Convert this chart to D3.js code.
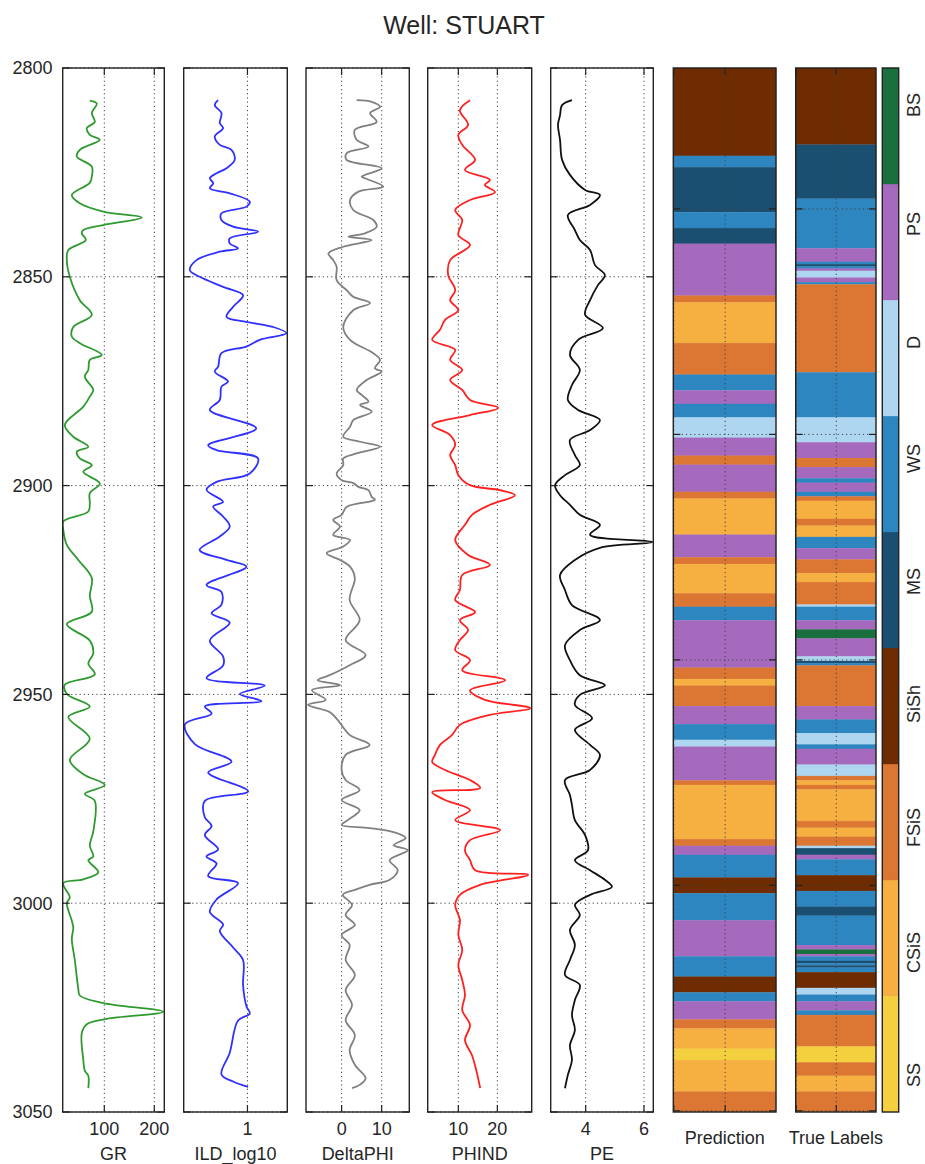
<!DOCTYPE html>
<html><head><meta charset="utf-8">
<script src="https://cdn.jsdelivr.net/npm/d3@7"></script>
<style>
body{margin:0;background:#fff}
svg{display:block}
text{font-family:"Liberation Sans",Arial,sans-serif;fill:#262626}
</style>
</head><body>
<svg id="c" width="925" height="1164"></svg>
<script>
// ---------------- DATA ----------------
const wellName = "STUART";
const depthTicks = [2800, 2850, 2900, 2950, 3000, 3050];

const grDepth = [2807.8,2808.5,2810.8,2812.9,2814.4,2816,2817.2,2819.6,2821.2,2823.6,2826,2827.5,2830.4,2832.4,2834.4,2835.8,2837.6,2838.8,2839.6,2841.2,2843.6,2846,2850,2855.6,2859.1,2862,2864.3,2865.9,2868.7,2869.9,2872.3,2873.9,2877.1,2878.7,2881.1,2885.5,2888.3,2890.7,2891.9,2893.5,2895.1,2896.7,2899.5,2901.8,2904.2,2906.2,2908.6,2910.6,2914.2,2917.8,2922.1,2926.4,2930.2,2933.2,2937.1,2940.1,2942.6,2945.2,2947.7,2949.9,2952.9,2955.4,2960.6,2965.7,2969.1,2971.7,2973.8,2975.5,2982.8,2986.2,2988.8,2989.7,2992.6,2994.3,2995.2,2998.6,2999.9,3004.2,3005.9,3008.5,3013.6,3020.5,3022.1,3023.9,3026.0,3027.7,3029.0,3031.1,3037.5,3040.1,3041.3,3044.3];
const grValue = [71,85,75,81,65,71,91,51,45,75,75,71,35,51,98,175,98,58,55,63,28,25,31,51,75,38,35,51,95,71,68,61,78,71,58,21,38,68,45,51,75,58,91,71,71,68,18,18,25,48,75,71,75,25,71,78,68,81,21,25,71,28,71,31,58,101,61,81,78,71,78,68,88,58,18,31,25,35,38,35,41,48,51,98,218,105,65,55,58,61,68,68];

const ildDepth = [2807.7,2808.9,2810.8,2813.2,2814.4,2816.4,2818.4,2819.6,2822,2824,2825.2,2826.4,2827.6,2828.8,2830,2832,2833.2,2834.8,2836.4,2838,2839.2,2840.8,2842,2843.2,2844,2846,2848.4,2850,2852.4,2854.4,2857.2,2859.6,2860.8,2862,2863.5,2865.1,2866.7,2868.3,2871.5,2872.7,2875.1,2876.3,2879.5,2881.9,2886.3,2890.3,2891.5,2893.5,2897.1,2899.1,2901,2903.9,2905,2907.4,2909.8,2912.2,2915.4,2917.8,2919.4,2923.8,2925.5,2928.5,2930.6,2932.8,2937.1,2940.9,2943.1,2946.1,2947.9,2949.9,2951.6,2952.9,2954.6,2957.2,2961.9,2966.1,2968.7,2973.2,2975.5,2979.4,2981.5,2983.7,2987.1,2988.8,2990.5,2993.5,2995.2,2999.1,3002.1,3005.1,3006.7,3010.6,3013.6,3019.6,3024.7,3026.4,3028.1,3035.8,3041,3042.7,3044];
const ildValue = [0.632,0.59,0.674,0.653,0.694,0.59,0.653,0.80,0.84,0.737,0.612,0.528,0.57,0.528,0.778,1.029,0.987,0.674,0.674,0.82,1.133,0.778,0.778,0.882,0.653,0.361,0.277,0.40,0.694,0.945,0.82,0.737,0.987,1.32,1.49,1.154,0.987,0.674,0.632,0.59,0.757,0.674,0.653,0.528,1.11,0.507,0.612,1.133,1.029,0.612,0.486,0.694,0.57,0.694,0.778,0.653,0.40,0.737,0.987,0.486,0.674,0.674,0.55,0.778,0.528,0.694,0.694,0.486,1.217,0.904,1.175,0.465,0.55,0.215,0.34,0.80,0.507,1.008,0.465,0.465,0.55,0.465,0.632,0.486,0.612,0.507,0.882,0.612,0.528,0.694,0.653,0.82,0.945,0.945,0.987,1.029,0.882,0.778,0.674,0.82,1.008];

const dphiDepth = [2807.7,2808.1,2809.3,2810.8,2812.9,2814.8,2817.2,2818.8,2820.4,2822.0,2824.0,2826.0,2826.4,2828.4,2829.6,2831.6,2834.0,2836.4,2838.0,2839.6,2840.4,2841.2,2842.8,2844.4,2846.0,2847.6,2850.8,2853.2,2854.8,2856.3,2858.0,2862.0,2865.1,2868.3,2869.9,2871.9,2872.7,2874.7,2877.1,2878.3,2879.9,2880.7,2882.3,2884.3,2885.9,2888.3,2889.5,2890.7,2892.3,2893.5,2895.1,2897.1,2898.7,2899.4,2900.3,2901.1,2902.7,2903.4,2905.1,2907.0,2908.2,2909.8,2911.8,2913.0,2914.6,2916.2,2917.8,2919.4,2922.2,2927.4,2932.2,2937.0,2940.6,2943.0,2945.4,2946.6,2947.8,2949.0,2951.3,2952.5,2954.2,2956.1,2959.7,2962.1,2964.5,2968.1,2970.5,2972.9,2975.3,2977.7,2980.1,2981.3,2982.0,2983.0,2984.4,2986.1,2987.3,2989.7,2992.1,2994.4,2995.6,2996.8,2998.0,3000.4,3002.8,3005.2,3007.6,3010.0,3013.6,3017.2,3020.8,3024.4,3028.0,3031.6,3035.2,3038.7,3041.9,3043.5,3044.3];
const dphiValue = [3.75,7.5,9.6,7.1,8.75,3.3,3.75,6.7,1.25,1.25,10,5,5.8,10.4,4.2,2.1,2.9,7.9,8.75,5.8,1.7,7.5,0.4,-3.3,-2.1,-1.25,-1.25,1.25,2.9,7.1,2.9,0.4,2.1,7.9,9.6,8.3,10,6.25,3.75,5,6.7,4.6,7.5,2.9,2.1,0.4,4.6,9.6,3.75,0.4,0.4,-1.25,0,2.9,4.2,6.7,7.5,8.3,1.25,0,-2.1,-0.4,-2.1,2.1,0.4,-3.75,-0.4,2.1,3.3,2,4.5,1,6,2,-3,-6,-0.4,-7.4,-4,-8.4,-3,-1,2,7,1,0,1,4.5,0,4.5,1.5,0,7,13,16,13,16.5,12,14,12,7,3.3,0.3,2.6,1,3.3,0,2,1,3.3,1,2.6,1,3.3,2,3.3,6,4.5,2.6];

const phindDepth = [2807.7,2810.1,2813.6,2816.0,2818.4,2822.0,2824.4,2826.8,2828.0,2829.7,2831.6,2834.0,2836.4,2840.0,2842.4,2846.0,2849.6,2853.2,2855.6,2858.0,2860.3,2862.7,2865.1,2867.5,2869.9,2872.3,2874.7,2877.1,2879.5,2881.4,2883.1,2885.5,2887.9,2890.3,2892.7,2895.1,2897.5,2899.9,2901.1,2902.3,2904.6,2907.0,2909.4,2913.0,2916.6,2919.0,2921.4,2925.0,2927.4,2930.3,2932.2,2934.6,2937.0,2939.4,2941.8,2944.2,2946.6,2949.0,2951.3,2953.3,2954.9,2957.3,2959.7,2962.1,2964.5,2966.2,2968.1,2970.5,2972.4,2973.4,2975.3,2977.7,2980.1,2982.5,2984.9,2987.3,2989.7,2992.1,2993.2,2995.6,2998.0,3000.4,3004.0,3007.6,3011.2,3014.8,3018.4,3022.0,3025.6,3029.2,3032.8,3036.4,3040.0,3044.3];
const phindValue = [13,10.4,12.5,10,11,14.3,11.7,18.1,16.8,19.4,13,9.2,11,10,13,7.9,7.4,9.2,7.9,10,6.6,5.3,3.3,9.2,7.9,11,7.9,11,13,20.2,13,3.3,7.9,9.2,7.9,9.2,10,13,20.7,24.5,18.1,13.5,11.7,9.2,12.5,18.1,11,10.4,9.2,14.3,10.4,12.5,10.4,9.2,13,11,22,13,16.8,28.4,18.1,10.4,8.4,5.3,4,3.3,6.6,13,15.6,3.3,6.6,13,9.2,20.7,13,11.7,13,14.3,27.9,15.6,10.4,9.2,10.4,10,11,10,11,11.7,11,13,11.7,13.5,14.6,15.6];

const peDepth = [2807.7,2808.9,2811.3,2813.6,2817.2,2822.0,2825.6,2829.2,2830.4,2832.8,2835.2,2838.8,2841.2,2843.6,2847.2,2849.6,2852.0,2855.6,2859.1,2862.3,2865.1,2868.7,2872.3,2875.9,2879.5,2881.9,2884.3,2886.7,2889.1,2892.7,2895.1,2897.5,2899.9,2902.3,2904.6,2907.0,2909.4,2911.8,2913.5,2914.9,2917.8,2921.4,2925.0,2928.6,2932.2,2934.6,2938.2,2941.8,2945.4,2947.8,2950.1,2952.5,2955.7,2958.5,2962.1,2964.5,2968.1,2970.5,2974.1,2976.5,2980.1,2983.7,2987.3,2989.7,2992.1,2994.4,2996.1,2998.0,3000.4,3002.8,3006.4,3010.0,3013.6,3017.2,3019.6,3023.2,3026.8,3030.4,3034.0,3037.5,3041.1,3044.3];
const peValue = [3.53,3.19,3.12,3.05,3.12,3.19,3.46,3.98,4.49,4.15,3.39,3.63,3.8,4.15,4.32,4.66,4.42,4.15,3.98,4.59,3.74,3.46,3.8,3.53,3.39,3.74,4.49,4.15,3.46,3.63,3.8,3.29,2.95,3.12,3.46,3.8,4.49,4.15,6.3,4.49,3.63,3.12,3.29,3.53,4.49,3.8,3.29,3.46,3.8,4.66,3.8,3.63,4.22,3.63,4.15,4.49,4.15,3.29,3.46,3.53,3.63,3.98,4.08,3.63,4.15,4.66,4.9,4.15,3.63,3.8,3.46,3.63,3.46,3.29,3.8,3.63,3.53,3.63,3.46,3.53,3.39,3.29];

// facies image columns: rows counted from the top of the strip, run-length encoded
const nRows = 463;
const predFacies = [4,6,5,6,5,8,3,2,3,6,8,6,7,8,3,8,3,2,8,3,2,3,6,8,3,2,3,8,6,7,8,3,2,3,8,6,4,6,8,6,4,6,8,3,2,1,2,3];
const predEnd = [39,44,64,71,78,101,104,122,136,143,149,155,164,172,176,188,191,207,217,220,233,239,245,266,271,274,283,291,298,301,316,318,342,345,349,359,366,378,394,403,410,414,422,426,435,440,454,463];
const trueFacies = [4,5,6,8,6,5,6,8,7,8,6,3,6,7,8,3,8,6,8,6,3,2,3,2,6,8,3,2,3,7,6,8,9,8,7,5,6,3,8,6,7,6,8,7,3,2,3,2,3,2,3,7,5,8,6,4,6,5,6,8,9,8,6,5,6,5,6,4,7,6,8,6,3,1,3,2,3];
const trueEnd = [34,58,80,86,87,88,89,90,93,95,96,135,155,166,173,177,182,184,188,190,192,200,203,208,213,218,224,228,238,239,245,249,253,261,263,264,265,283,289,295,300,302,309,314,316,318,320,334,337,341,345,346,349,351,358,365,372,376,389,391,393,394,396,397,398,399,401,408,411,414,418,420,434,441,447,454,463];
const facRowTicks = [0, 100, 200, 300, 400];
const facColTicks = [0, 50];

const faciesLabels = ['SS','CSiS','FSiS','SiSh','MS','WS','D','PS','BS'];
const faciesColors = ['#F4D03F','#F5B041','#DC7633','#6E2C00','#1B4F72','#2E86C1','#AED6F1','#A569BD','#196F3D'];

// ---------------- LAYOUT ----------------
const TOP = 68, BOT = 1112;
const panelX = [62.7, 183.7, 306, 427.7, 550.7, 673.3, 795.7];
const panelW = [101.6, 103.6, 103.3, 104, 102.6, 102.7, 80.3];
const cbX = 882.3, cbW = 16.4;
const frameColor = "#222", tickLen = 7;

const logs = [
  {label:"GR", depth:grDepth, value:grValue, domain:[16.8,220], ticks:[100,200], color:"#2f9a2f"},
  {label:"ILD_log10", depth:ildDepth, value:ildValue, domain:[0.2,1.5], ticks:[1], color:"#3030ff"},
  {label:"DeltaPHI", depth:dphiDepth, value:dphiValue, domain:[-8.9,16.9], ticks:[0,10], color:"#808080"},
  {label:"PHIND", depth:phindDepth, value:phindValue, domain:[2.15,28.8], ticks:[10,20], color:"#ff2020"},
  {label:"PE", depth:peDepth, value:peValue, domain:[2.8,6.32], ticks:[4,6], color:"#111"}
];

const svg = d3.select("#c");
const y = d3.scaleLinear().domain([2800, 3050]).range([TOP, BOT]);

svg.append("text").attr("x", 464).attr("y", 34).attr("text-anchor","middle")
  .style("font-size","25px").text("Well: " + wellName);

const defs = svg.append("defs");

function gridLine(g, x1,y1,x2,y2){
  g.append("line").attr("x1",x1).attr("y1",y1).attr("x2",x2).attr("y2",y2)
   .attr("stroke","#444").attr("stroke-width",1).attr("stroke-dasharray","1.2,3");
}
function tick(g,x1,y1,x2,y2){
  g.append("line").attr("x1",x1).attr("y1",y1).attr("x2",x2).attr("y2",y2)
   .attr("stroke",frameColor).attr("stroke-width",1.2);
}

logs.forEach((L, i) => {
  const x0 = panelX[i], w = panelW[i];
  const xs = d3.scaleLinear().domain(L.domain).range([x0, x0 + w]);
  const g = svg.append("g");
  defs.append("clipPath").attr("id","clip"+i).append("rect")
    .attr("x",x0).attr("y",TOP).attr("width",w).attr("height",BOT-TOP);
  depthTicks.forEach(d => gridLine(g, x0, y(d), x0+w, y(d)));
  L.ticks.forEach(t => gridLine(g, xs(t), TOP, xs(t), BOT));
  const pts = L.depth.map((d,k)=>[d, L.value[k]]);
  g.append("path").attr("clip-path","url(#clip"+i+")")
    .attr("d", d3.line().x(p=>xs(p[1])).y(p=>y(p[0])).curve(d3.curveCatmullRom.alpha(0.5))(pts))
    .attr("fill","none").attr("stroke",L.color).attr("stroke-width",1.8);
  g.append("rect").attr("x",x0).attr("y",TOP).attr("width",w).attr("height",BOT-TOP)
    .attr("fill","none").attr("stroke",frameColor).attr("stroke-width",1.4);
  depthTicks.forEach(d => { tick(g,x0,y(d),x0+tickLen,y(d)); tick(g,x0+w-tickLen,y(d),x0+w,y(d)); });
  L.ticks.forEach(t => { tick(g,xs(t),TOP,xs(t),TOP+tickLen); tick(g,xs(t),BOT-tickLen,xs(t),BOT); });
  L.ticks.forEach(t => g.append("text").attr("x",xs(t)).attr("y",1135).attr("text-anchor","middle")
    .style("font-size","18px").text(d3.format("d")(t)));
  g.append("text").attr("x",x0+w/2).attr("y",1159.5).attr("text-anchor","middle")
    .style("font-size","18px").text(L.label);
  if (i === 0) {
    depthTicks.forEach(d => g.append("text").attr("x",52.5).attr("y",y(d)+6.3)
      .attr("text-anchor","end").style("font-size","18px").text(d));
  }
});

// facies columns
const rowY = d3.scaleLinear().domain([0, nRows]).range([TOP, BOT]);
function faciesColumn(idx, fac, ends, label){
  const x0 = panelX[idx], w = panelW[idx];
  const xs = d3.scaleLinear().domain([-0.5, 99.5]).range([x0, x0+w]);
  const g = svg.append("g");
  const segs = fac.map((f,k)=>({f, s: k===0?0:ends[k-1], e: ends[k]}));
  g.selectAll("rect.seg").data(segs).enter().append("rect")
    .attr("x",x0).attr("width",w)
    .attr("y",d=>rowY(d.s)).attr("height",d=>rowY(d.e)-rowY(d.s))
    .attr("fill",d=>faciesColors[d.f-1]).attr("stroke",d=>faciesColors[d.f-1]).attr("stroke-width",0.3);
  facRowTicks.forEach(r => { const yy = rowY(nRows - 0.5 - r);
    gridLine(g, x0, yy, x0+w, yy); tick(g,x0,yy,x0+tickLen,yy); tick(g,x0+w-tickLen,yy,x0+w,yy); });
  facColTicks.forEach(c => { const xx = xs(c);
    gridLine(g, xx, TOP, xx, BOT); tick(g,xx,TOP,xx,TOP+tickLen); tick(g,xx,BOT-tickLen,xx,BOT); });
  g.append("rect").attr("x",x0).attr("y",TOP).attr("width",w).attr("height",BOT-TOP)
    .attr("fill","none").attr("stroke",frameColor).attr("stroke-width",1.4);
  g.append("text").attr("x",x0+w/2).attr("y",1143.5).attr("text-anchor","middle")
    .style("font-size","18px").text(label);
}
faciesColumn(5, predFacies, predEnd, "Prediction");
faciesColumn(6, trueFacies, trueEnd, "True Labels");

// colorbar
const cb = svg.append("g");
const cy = d3.scaleLinear().domain([0.5, 9.5]).range([BOT, TOP]);
cb.selectAll("rect.c").data(faciesLabels.map((l,i)=>i+1)).enter().append("rect")
  .attr("x",cbX).attr("width",cbW).attr("y",d=>cy(d+0.5)).attr("height",d=>cy(d-0.5)-cy(d+0.5))
  .attr("fill",d=>faciesColors[d-1]).attr("stroke",d=>faciesColors[d-1]).attr("stroke-width",0.3);
cb.append("rect").attr("x",cbX).attr("y",TOP).attr("width",cbW).attr("height",BOT-TOP)
  .attr("fill","none").attr("stroke",frameColor).attr("stroke-width",1.4);
const padded = [' SS ','CSiS','FSiS','SiSh',' MS ',' WS ',' D  ',' PS ',' BS '];
cb.append("text").attr("xml:space","preserve").style("white-space","pre")
  .attr("transform",`translate(920,${(TOP+BOT)/2}) rotate(-90)`)
  .attr("text-anchor","middle").style("font-size","18px")
  .text(padded.join(" ".repeat(17)));
</script>
</body></html>
